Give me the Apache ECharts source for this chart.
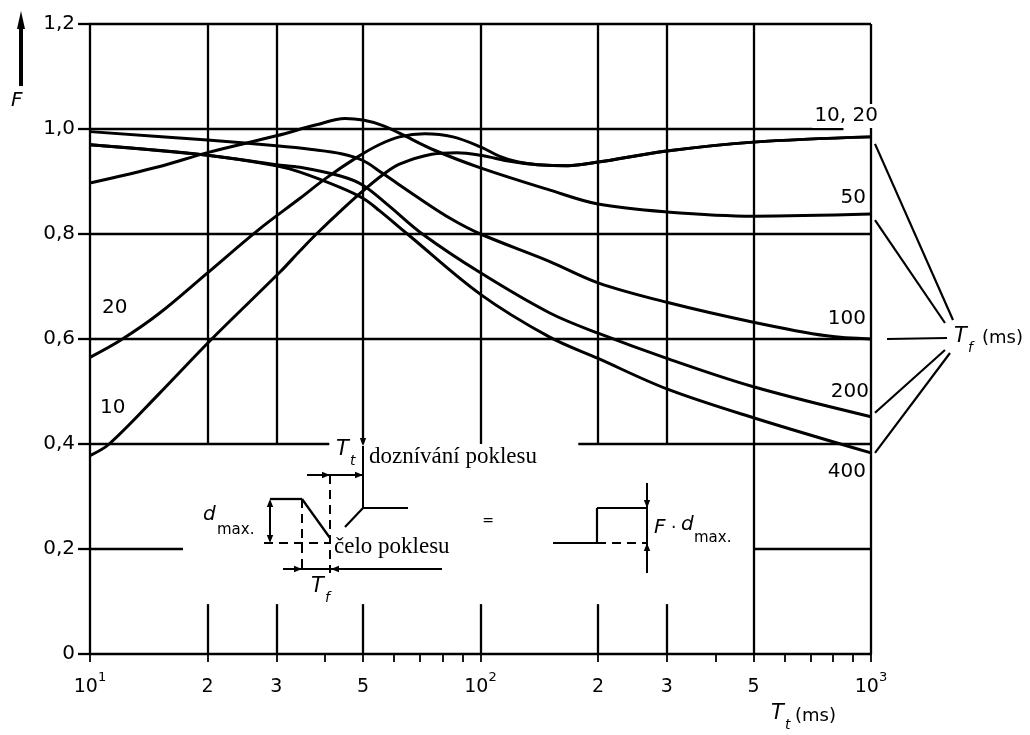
<!DOCTYPE html>
<html><head><meta charset="utf-8">
<script src="https://cdn.jsdelivr.net/npm/echarts@6/dist/echarts.min.js"></script>
<style>html,body{margin:0;padding:0;background:#fff}#c{width:1030px;height:735px}</style>
</head><body><div id="c"></div>
<script>
// ---- data (T_t in ms, F) ----
const curveNames = ['10', '20', '50', '100', '200', '400'];
const tf10  = [[10,0.378],[11.2,0.40],[15,0.495],[20.5,0.60],[30.7,0.728],[34.5,0.768],[38,0.80],[44,0.845],[50,0.882],[56,0.912],[62,0.933],[75,0.952],[87,0.955],[100,0.95],[120,0.938],[140,0.932],[167,0.930],[200,0.937],[300,0.958],[500,0.975],[1000,0.985]];
const tf20  = [[10,0.565],[12,0.598],[15,0.648],[20,0.726],[27,0.808],[34.5,0.868],[40,0.905],[48,0.945],[55,0.970],[62,0.985],[72,0.991],[85,0.985],[100,0.966],[112,0.948],[125,0.937],[140,0.932],[167,0.930],[200,0.937],[300,0.958],[500,0.975],[1000,0.985]];
const tf50  = [[10,0.897],[15,0.928],[20,0.955],[30,0.987],[38,1.008],[45,1.02],[50,1.017],[56,1.007],[62,0.992],[76,0.96],[100,0.926],[150,0.884],[200,0.857],[300,0.842],[500,0.834],[1000,0.838]];
const tf100 = [[10,0.995],[20,0.979],[30,0.968],[37,0.961],[44,0.953],[50,0.94],[56,0.916],[69,0.87],[84,0.829],[100,0.80],[150,0.748],[200,0.707],[300,0.670],[500,0.632],[770,0.606],[1000,0.60]];
const tf200 = [[10,0.97],[20,0.95],[30,0.932],[34.5,0.927],[44,0.91],[50,0.893],[58,0.855],[71,0.80],[100,0.726],[150,0.65],[200,0.611],[300,0.563],[500,0.509],[1000,0.452]];
const tf400 = [[10,0.97],[20,0.95],[30,0.93],[34.5,0.918],[44,0.888],[50,0.868],[55,0.845],[65,0.80],[100,0.685],[150,0.604],[200,0.563],[300,0.505],[500,0.45],[1000,0.383]];
const curves = [tf10, tf20, tf50, tf100, tf200, tf400];

const xLabelValues = [10, 20, 30, 50, 100, 200, 300, 500, 1000];
const xTickValues  = [10, 20, 30, 40, 50, 60, 70, 80, 90, 100, 200, 300, 400, 500, 600, 700, 800, 900, 1000];
const xGridInner   = [20, 30, 50, 100, 200, 300];
const xGridFull    = [500, 1000];

// ---- chart ----
const FONT = '"DejaVu Sans"';
const chart = echarts.init(document.getElementById('c'), null, {renderer: 'canvas'});

const seg = (a, b) => [{coord: a}, {coord: b}];
const gridSegs = [];
xGridInner.forEach(v => { gridSegs.push(seg([v, 0.4], [v, 1.2])); gridSegs.push(seg([v, 0], [v, 0.095])); });
xGridFull.forEach(v => gridSegs.push(seg([v, 0], [v, 1.2])));
gridSegs.push(seg([10, 1.2], [1000, 1.2]));
gridSegs.push(seg([10, 1.0], [850, 1.0]));
gridSegs.push(seg([10, 0.8], [1000, 0.8]));
gridSegs.push(seg([10, 0.6], [1000, 0.6]));
gridSegs.push(seg([10, 0.4], [41, 0.4]));
gridSegs.push(seg([178, 0.4], [1000, 0.4]));
gridSegs.push(seg([10, 0.2], [17.3, 0.2]));
gridSegs.push(seg([500, 0.2], [1000, 0.2]));

const series = curves.map((d, i) => ({
  name: curveNames[i], type: 'line', data: d, smooth: 0.35,
  symbol: 'none', lineStyle: {color: '#000', width: 3}, z: 5, silent: true, animation: false
}));
series.push({
  type: 'line', data: [], symbol: 'none', silent: true, animation: false,
  markLine: {silent: true, symbol: ['none', 'none'], animation: false, label: {show: false},
    lineStyle: {color: '#000', width: 2.3, type: 'solid'}, data: gridSegs}
});

chart.setOption({
  backgroundColor: '#fff',
  animation: false,
  grid: {left: 90, right: 159, top: 24, bottom: 81},
  xAxis: {
    type: 'log', logBase: 10, min: 10, max: 1000,
    axisLine: {show: true, onZero: false, lineStyle: {color: '#000', width: 2.3}},
    axisTick: {show: true, customValues: xTickValues, length: 8, lineStyle: {color: '#000', width: 1.8}},
    minorTick: {show: false},
    splitLine: {show: false},
    axisLabel: {
      customValues: xLabelValues, margin: 17, color: '#000',
      formatter: v => {
        const e = Math.round(Math.log10(v));
        if (Math.abs(v - Math.pow(10, e)) < 1e-6) return '{b|10}{s|' + e + '}';
        return '{b|' + Math.round(v / Math.pow(10, Math.floor(Math.log10(v) + 1e-9))) + '}';
      },
      rich: {
        b: {fontFamily: 'DejaVu Sans', fontSize: 19, color: '#000', lineHeight: 26, verticalAlign: 'bottom'},
        s: {fontFamily: 'DejaVu Sans', fontSize: 13, color: '#000', lineHeight: 13, verticalAlign: 'top'}
      }
    }
  },
  yAxis: {
    type: 'value', min: 0, max: 1.2, interval: 0.2,
    axisLine: {show: true, lineStyle: {color: '#000', width: 2.3}},
    axisTick: {show: true, length: 12, lineStyle: {color: '#000', width: 2.3}},
    splitLine: {show: false},
    axisLabel: {
      margin: 15, color: '#000', fontFamily: 'DejaVu Sans', fontSize: 20,
      formatter: v => (Math.abs(v) < 1e-9 ? '0' : v.toFixed(1).replace('.', ','))
    }
  },
  series
});

// ---- annotations ----
const G = [];
function L(x1, y1, x2, y2, w, dash) {
  G.push({type: 'line', shape: {x1, y1, x2, y2}, silent: true, z: 20,
    style: {stroke: '#000', lineWidth: w || 2, lineDash: dash || null}});
}
function T(x, y, text, size, opt) {
  opt = opt || {};
  G.push({type: 'text', x, y, silent: true, z: 21, style: {
    text, fill: '#000',
    font: (opt.italic ? 'italic ' : '') + size + 'px ' + (opt.family || FONT),
    textAlign: opt.align || 'left', textVerticalAlign: 'middle',
    backgroundColor: opt.bg || null, padding: opt.pad || 0
  }});
}
function head(x, y, dir) {
  const len = 8, hw = 3.2;
  let p;
  if (dir === 'r') p = [[x, y], [x - len, y - hw], [x - len, y + hw]];
  if (dir === 'l') p = [[x, y], [x + len, y - hw], [x + len, y + hw]];
  if (dir === 'u') p = [[x, y], [x - hw, y + len], [x + hw, y + len]];
  if (dir === 'd') p = [[x, y], [x - hw, y - len], [x + hw, y - len]];
  G.push({type: 'polygon', shape: {points: p}, silent: true, z: 21, style: {fill: '#000'}});
}

// Y axis arrow and title
L(21, 86, 21, 26, 4);
G.push({type: 'polygon', shape: {points: [[21, 11], [17, 29], [25, 29]]}, silent: true, z: 21, style: {fill: '#000'}});
T(11, 101, 'F', 20, {italic: true});

// X axis title
T(771, 714, 'T', 21, {italic: true});
T(785, 725, 't', 14, {italic: true});
T(795, 716, '(ms)', 18);

// curve labels
T(878, 116, '10, 20', 20, {align: 'right', bg: '#fff', pad: [2, 0, 2, 2]});
T(866, 198, '50', 20, {align: 'right'});
T(866, 319, '100', 20, {align: 'right'});
T(869, 392, '200', 20, {align: 'right'});
T(866, 472, '400', 20, {align: 'right'});
T(102, 308, '20', 20);
T(100, 408, '10', 20);

// T_f (ms) with leader lines to the curve ends
const endIdx = [0, 2, 3, 4, 5];
const targets = [[953, 320], [945, 323], [947, 338], [945, 350], [950, 353]];
endIdx.forEach((ci, k) => {
  const d = curves[ci][curves[ci].length - 1];
  const p = chart.convertToPixel({gridIndex: 0}, d);
  const start = ci === 3 ? [p[0] + 16, p[1]] : [p[0] + 4, p[1] + (ci === 0 ? 7 : ci === 2 ? 6 : ci === 4 ? -4 : 0)];
  L(start[0], start[1], targets[k][0], targets[k][1], 2.2);
});
T(954, 337, 'T', 21, {italic: true});
T(968, 348, 'f', 14, {italic: true});
T(982, 338, '(ms)', 18);

// inset: left waveform
L(270, 499, 302, 499, 2.3);
L(302, 499, 330, 538, 2.3);
L(270, 505, 270, 537, 2); head(270, 499, 'u'); head(270, 543, 'd');
L(264, 543, 330, 543, 2, [9, 6]);
L(302, 499, 302, 573, 2, [9, 6]);
L(330, 475, 330, 573, 2, [9, 6]);
L(307, 475, 330, 475, 2); head(330, 475, 'r');
L(330, 475, 363, 475, 2); head(363, 475, 'r');
L(363, 446, 363, 508, 2); head(363, 446, 'd');
L(363, 508, 408, 508, 2.2);
L(345, 527, 363, 508, 2.2);
L(283, 569, 442, 569, 2); head(302, 569, 'r'); head(331, 569, 'l');
T(203, 515, 'd', 20, {italic: true});
T(217, 530, 'max.', 15);
T(336, 450, 'T', 21, {italic: true});
T(350, 461, 't', 14, {italic: true});
T(369, 457, 'doznívání poklesu', 23, {family: '"Liberation Serif"'});
T(334, 547, 'čelo poklesu', 23, {family: '"Liberation Serif"'});
T(311, 587, 'T', 21, {italic: true});
T(325, 598, 'f', 14, {italic: true});
T(488, 521, '=', 14, {align: 'center'});

// inset: right step
L(553, 543, 597, 543, 2.2);
L(597, 543, 597, 508, 2.2);
L(597, 508, 647, 508, 2.2);
L(597, 543, 647, 543, 2, [9, 6]);
L(647, 483, 647, 573, 2); head(647, 508, 'd'); head(647, 543, 'u');
T(654, 528, 'F', 20, {italic: true});
T(671, 529, '·', 17);
T(681, 525, 'd', 20, {italic: true});
T(694, 538, 'max.', 15);

chart.setOption({graphic: G});
</script>
</body></html>
